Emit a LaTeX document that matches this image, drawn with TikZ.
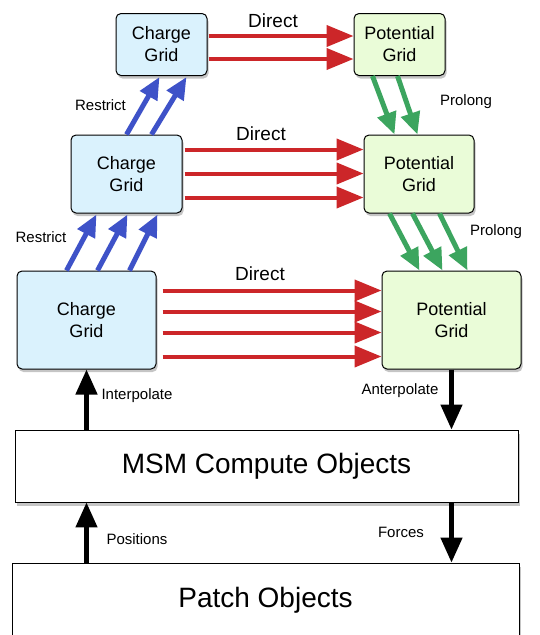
\documentclass[tikz,border=0pt]{standalone}
\usepackage{fontspec}
\setmainfont{Liberation Sans}
\usetikzlibrary{arrows.meta,shadows,calc}
\definecolor{cfill}{RGB}{218,242,253}
\definecolor{pfill}{RGB}{234,252,216}
\definecolor{redA}{RGB}{204,38,41}
\definecolor{blueA}{RGB}{62,82,200}
\definecolor{greenA}{RGB}{60,165,95}
\tikzset{
  grid/.style={draw=black, line width=1pt, rounded corners=5pt, align=center,
    font=\fontsize{18}{22}\selectfont, inner sep=0pt,
    drop shadow={shadow xshift=1.5pt, shadow yshift=-3pt, opacity=0.45}},
  cgrid/.style={grid, fill=cfill},
  pgrid/.style={grid, fill=pfill},
  obj/.style={draw=black, line width=0.8pt, fill=white, font=\fontsize{28}{32}\selectfont,
    drop shadow={shadow xshift=1.5pt, shadow yshift=-3.5pt, opacity=0.45}},
  lbl/.style={font=\fontsize{15}{18}\selectfont, inner sep=0pt},
  dlbl/.style={font=\fontsize{19}{22}\selectfont, inner sep=0pt},
  redarrow/.style={draw=redA, line width=4pt, -{Triangle[length=27pt,width=21pt]}},
  bluearrow/.style={draw=blueA, line width=5pt, -{Triangle[length=22pt,width=19pt]}},
  greenarrow/.style={draw=greenA, line width=5pt, -{Triangle[length=22pt,width=19pt]}},
  blackarrow/.style={draw=black, line width=4.5pt, -{Triangle[length=25pt,width=21pt]}},
}
\begin{document}
\begin{tikzpicture}[x=1pt,y=-1pt]
\useasboundingbox (0,0) rectangle (539,635);
\clip (0,0) rectangle (539,635);
\fill[white] (0,0) rectangle (539,635);
% boxes
\node[cgrid, minimum width=91pt, minimum height=62pt] (cg1) at (161.5,44.5) {Charge\\Grid};
\node[pgrid, minimum width=91pt, minimum height=62pt] (pg1) at (399.5,44.5) {Potential\\Grid};
\node[cgrid, minimum width=111pt, minimum height=78pt] (cg2) at (126.5,174) {Charge\\Grid};
\node[pgrid, minimum width=110pt, minimum height=78pt] (pg2) at (419,174) {Potential\\Grid};
\node[cgrid, minimum width=139pt, minimum height=98pt] (cg3) at (86.5,320) {Charge\\Grid};
\node[pgrid, minimum width=139pt, minimum height=98pt] (pg3) at (451.5,320) {Potential\\Grid};
\node[obj, minimum width=503pt, minimum height=72pt] (msm) at (266.5,466) {MSM Compute Objects};
\node[obj, minimum width=507pt, minimum height=74pt] (patch) at (265.5,600) {Patch Objects};
% direct arrows
\foreach \dy in {23,46}{
  \draw[redarrow] ($(cg1.north east)+(1,\dy)$) coordinate (s) -- (s -| pg1.west);}
\foreach \dy in {15,39,63}{
  \draw[redarrow] ($(cg2.north east)+(2,\dy)$) coordinate (s) -- (s -| pg2.west);}
\foreach \dy in {20,41,62,86}{
  \draw[redarrow] ($(cg3.north east)+(6,\dy)$) coordinate (s) -- (s -| pg3.west);}
% restrict arrows
\foreach \a/\b in {56/44,81/71}{
  \draw[bluearrow] ($(cg2.north west)+(\a,0)$) -- ($(cg1.south west)+(\b,1)$);}
\foreach \a/\b in {50/26,81/57,113/87}{
  \draw[bluearrow] ($(cg3.north west)+(\a,0)$) -- ($(cg2.south west)+(\b,1)$);}
% prolong arrows
\foreach \a/\b in {19/31,44/54}{
  \draw[greenarrow] ($(pg1.south west)+(\a,0)$) -- ($(pg2.north west)+(\b,0)$);}
\foreach \a/\b in {26/38,49/61,76/86}{
  \draw[greenarrow] ($(pg2.south west)+(\a,0)$) -- ($(pg3.north west)+(\b,0)$);}
% black arrows
\draw[blackarrow] (msm.north -| cg3.south) -- (cg3.south);
\draw[blackarrow] (pg3.south) -- (pg3.south |- msm.north);
\draw[blackarrow] (patch.north -| cg3.south) -- (msm.south -| cg3.south);
\draw[blackarrow] (msm.south -| pg3.south) -- (patch.north -| pg3.south);
% labels
\node[dlbl] (d1) at (273,21) {Direct};
\node[dlbl] (d2) at (261,134) {Direct};
\node[dlbl] (d3) at (260,274) {Direct};
\node[lbl] (r1) at (100.5,105) {Restrict};
\node[lbl] (r2) at (41,237) {Restrict};
\node[lbl] (p1) at (466,102) {Prolong};
\node[lbl] (p2) at (496,232) {Prolong};
\node[lbl] (ip) at (137,396) {Interpolate};
\node[lbl] (ap) at (400,391) {Anterpolate};
\node[lbl] (po) at (137,539) {Positions};
\node[lbl] (fo) at (401,532) {Forces};
\end{tikzpicture}
\end{document}
